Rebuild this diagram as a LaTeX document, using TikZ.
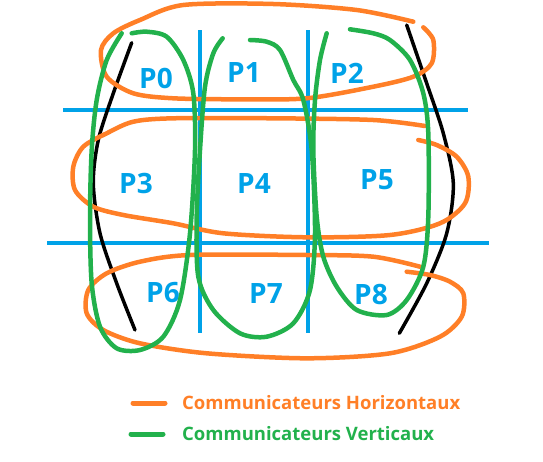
\documentclass[tikz,border=0pt]{standalone}
\usepackage{fontspec}
\setmainfont{Open Sans}
\usepackage{xcolor}
\usepackage{tikz}
\usetikzlibrary{positioning}

\definecolor{gridblue}{RGB}{0,162,232}
\definecolor{horizorange}{RGB}{255,127,39}
\definecolor{vertgreen}{RGB}{34,177,76}

\begin{document}
\begin{tikzpicture}[
    x=1pt, y=-1pt,
    gridline/.style={draw=gridblue, line width=4pt},
    edge/.style={draw=black, line width=3.5pt, line cap=round},
    horiz/.style={draw=horizorange, line width=4.5pt, line cap=round, line join=round},
    vert/.style={draw=vertgreen, line width=4.5pt, line cap=round, line join=round},
    proc/.style={font=\bfseries\fontsize{28}{28}\selectfont, text=gridblue, inner sep=0pt},
    legend/.style={font=\bfseries\fontsize{18.5}{18.5}\selectfont, inner sep=0pt, anchor=west}
]
\useasboundingbox (0,0) rectangle (543,461);

% grille des processus
\draw[gridline] (200,30) -- (200,333);
\draw[gridline] (308,30) -- (308,333);
\draw[gridline] (63,110) -- (468,110);
\draw[gridline] (47,243) -- (489,243);

% bords
\draw[edge] plot[smooth] coordinates {(131.7,42.7) (113.3,93.3) (98.3,140) (93.3,183.3) (100,233.3) (116.7,283.3) (135,330)};
\draw[edge] plot[smooth] coordinates {(406.7,25) (426.7,83.3) (443.3,133.3) (453.3,183.3) (446.7,233.3) (426.7,283.3) (399.3,333.3)};

\node[proc] (p0) at (156,78) {P0};
\node[proc] (p1) at (244,73) {P1};
\node[proc] (p2) at (347,73) {P2};
\node[proc] (p3) at (136,183) {P3};
\node[proc] (p4) at (254,184) {P4};
\node[proc] (p5) at (377,180) {P5};
\node[proc] (p6) at (163,293) {P6};
\node[proc] (p7) at (266,293) {P7};
\node[proc] (p8) at (371,295) {P8};

% communicateurs horizontaux
\draw[horiz] plot[smooth] coordinates {(423.3,27.3) (433.3,40) (431.7,63.3) (413.3,76.7) (373.3,86.7) (306.7,98.3) (240,99.3) (173.3,98.3) (133.3,93.3) (106.7,76.7) (101,50) (113.3,33.3) (140,20) (183.3,5) (273.3,4) (356.7,10) (413.3,21.7)};
\draw[horiz] plot[smooth] coordinates {(425,126) (373.3,120) (273.3,118.3) (173.3,118.3) (133.3,121.7) (106.7,133.3) (83.3,146.7) (73.3,166.7) (75,190) (93.3,206.7) (123.3,215) (173.3,223.3) (223.3,233.3) (306.7,237.3) (390,235) (440,223.3) (465,203.3) (468.3,176.7) (456.7,156.7) (436.7,145) (418.3,140)};
\draw[horiz] plot[smooth] coordinates {(420,266.7) (373.3,256.7) (306.7,255) (190,255) (140,261.7) (106.7,273.3) (88.3,290) (86.7,313.3) (103.3,330) (140,343.3) (206.7,353.3) (306.7,358.3) (390,353.3) (440,336.7) (461.7,316.7) (463.3,293.3) (450,281.7) (430,275) (406.7,271.7)};

% communicateurs verticaux
\draw[vert] plot[smooth] coordinates {(121.7,33.3) (106.7,60) (96.7,100) (91.7,150) (90,216.7) (91.7,283.3) (100,326.7) (116.7,348.3) (140,350) (163.3,336.7) (180,300) (190,233.3) (195,150) (193.3,93.3) (183.3,60) (166.7,36.7) (146.7,31.7) (131.7,33.3)};
\draw[vert] plot[smooth] coordinates {(222.7,38.3) (213.3,53.3) (205,86.7) (200,150) (196.7,216.7) (198.3,276.7) (213.3,310) (240,333.3) (266.7,336.7) (293.3,323.3) (310,290) (315,233.3) (311.7,150) (303.3,100) (293.3,80) (280,50) (266.7,41.7) (250,40)};
\draw[vert] plot[smooth] coordinates {(326.7,33.3) (320,60) (315,100) (313.3,150) (316.7,216.7) (323.3,256.7) (336.7,286.7) (356.7,310) (386.7,315) (406.7,300) (423.3,266.7) (428.3,216.7) (428.3,133.3) (423.3,93.3) (410,60) (390,40) (373.3,33.3) (350,29.3)};

% legende
\coordinate (hstart) at (133,403);
\coordinate (vstart) at (131,434);
\node[legend, text=horizorange] (hlabel) at (182,403) {Communicateurs Horizontaux};
\node[legend, text=vertgreen] (vlabel) at (182,434) {Communicateurs Verticaux};
\draw[horiz, line width=5pt] (hstart) -- ([xshift=-17pt]hlabel.west);
\draw[vert, line width=5pt] (vstart) -- ([xshift=-19pt]vlabel.west);

\end{tikzpicture}
\end{document}
